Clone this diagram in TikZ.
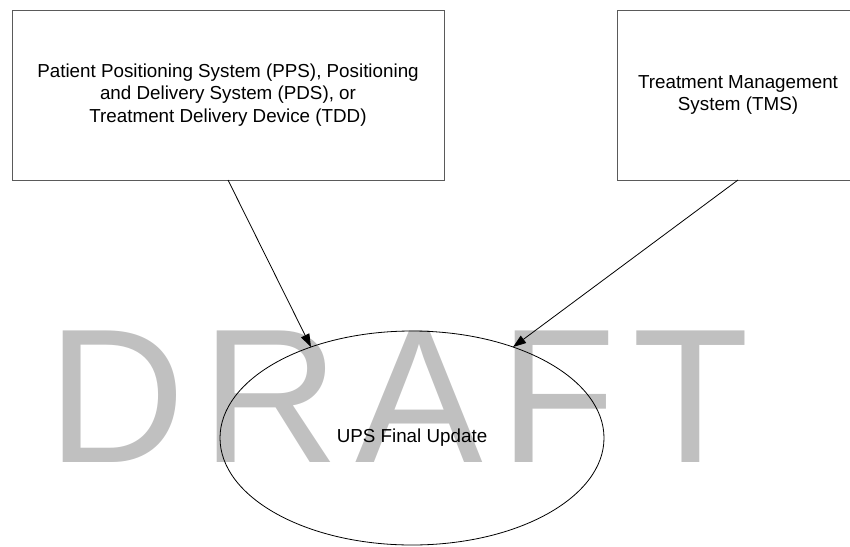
\documentclass[tikz,border=0pt]{standalone}
\usepackage{fontspec}
\setmainfont{Liberation Sans}
\newfontfamily\wmfont{Liberation Sans}[LetterSpace=8.5]
\usetikzlibrary{shapes.geometric,arrows.meta}

\definecolor{wmgray}{RGB}{192,192,192}
\definecolor{boxline}{RGB}{90,90,90}

\tikzset{
  sysbox/.style={draw=boxline, line width=1pt, inner sep=0pt, outer sep=0pt,
    align=center, font=\fontsize{18.8}{22.5}\selectfont},
  stepoval/.style={draw=black, line width=0.8pt, ellipse, inner sep=0pt, outer sep=0pt,
    font=\fontsize{18.8}{22.5}\selectfont},
  flow/.style={draw=black, line width=0.8pt, -{Triangle[length=13pt,width=9pt]}},
  watermark/.style={text=wmgray, inner sep=0pt, anchor=base west,
    font=\wmfont\fontsize{191.3}{191.3}\selectfont}
}

\begin{document}
\begin{tikzpicture}[x=1pt, y=-1pt]
  \clip (0,0) rectangle (850,546);

  % watermark behind the diagram
  \node[watermark] (wm) at (47,462) {DRAFT};

  % source systems
  \node[sysbox, minimum width=432pt, minimum height=170pt] (pps) at (228,95)
    {Patient Positioning System (PPS), Positioning\\and Delivery System (PDS), or\\Treatment Delivery Device (TDD)};
  \node[sysbox, minimum width=242pt, minimum height=170pt] (tms) at (738,95)
    {Treatment Management\\System (TMS)};

  % procedure step
  \node[stepoval, minimum width=384pt, minimum height=214pt] (ups) at (412,438)
    {UPS Final Update};

  % connectors
  \draw[flow] (pps.south) -- (ups.138.5);
  \draw[flow] (tms.south) -- (ups.42.3);
\end{tikzpicture}
\end{document}
